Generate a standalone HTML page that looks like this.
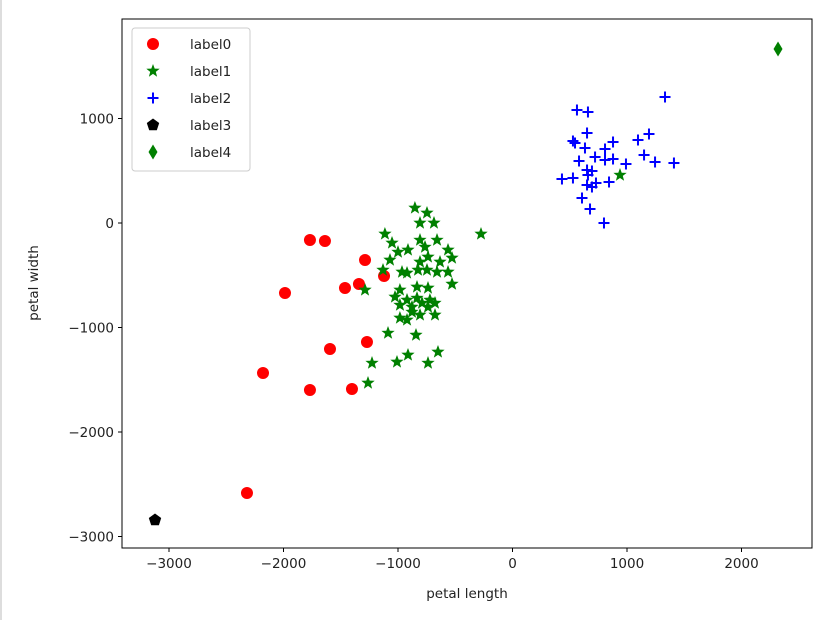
<!DOCTYPE html>
<html><head><meta charset="utf-8"><style>
html,body{margin:0;padding:0;background:#fff;width:816px;height:620px;overflow:hidden}
svg text{font-family:"DejaVu Sans","Liberation Sans",sans-serif;font-size:13.5px;fill:#222}
</style></head><body>
<svg id="chart" width="816" height="620" xmlns="http://www.w3.org/2000/svg"></svg>
<script>
const xTicks=[-3000,-2000,-1000,0,1000,2000];
const yTicks=[1000,0,-1000,-2000,-3000];
const label0X=[-1769,-1638,-1288,-1341,-1463,-1987,-1122,-1594,-1271,-2179,-1769,-1402,-2319];
const label0Y=[-163,-172,-354,-584,-622,-670,-507,-1206,-1139,-1435,-1598,-1589,-2584];
const label1X=[-852,-747,-808,-686,-1114,-1052,-275,-913,-1000,-808,-764,-659,-563,-528,-1070,-808,-738,-633,-1131,-965,-921,-825,-747,-659,-563,-528,-1288,-983,-834,-738,-1026,-921,-834,-721,-983,-878,-790,-677,-738,-878,-808,-677,-983,-921,-1087,-843,-651,-913,-1009,-1227,-738,-1262,939];
const label1Y=[144,96,0,0,-105,-191,-105,-258,-278,-163,-230,-163,-258,-335,-354,-373,-325,-373,-450,-469,-478,-450,-450,-469,-469,-584,-641,-641,-612,-622,-708,-737,-718,-737,-785,-804,-766,-766,-804,-852,-880,-880,-909,-928,-1053,-1072,-1234,-1263,-1330,-1340,-1340,-1531,459];
const label2X=[1332,563,659,651,528,546,633,878,808,1096,1192,721,808,878,581,991,1149,1245,1410,651,694,659,432,528,651,694,729,843,607,677,799];
const label2Y=[1206,1081,1062,861,785,766,718,775,708,794,852,632,603,612,593,565,651,584,574,507,498,459,421,431,364,344,383,392,239,134,0];
const label3X=[-3122];
const label3Y=[-2842];
const label4X=[2319];
const label4Y=[1665];
const legendLabels=["label0","label1","label2","label3","label4"];

const NS="http://www.w3.org/2000/svg";
const svg=document.getElementById('chart');
const L=122,R=812,T=19,B=548;
function sx(v){return 512.5+v*0.1145;}
function sy(v){return 223-v*0.1045;}
function el(tag,attrs,parent){const e=document.createElementNS(NS,tag);for(const k in attrs)e.setAttribute(k,attrs[k]);(parent||svg).appendChild(e);return e;}

const edge=el('rect',{x:0,y:0,width:2,height:620,fill:'#ddd'});


const frame=el('rect',{x:L,y:T,width:R-L,height:B-T,fill:'#fff',stroke:'#000','stroke-width':1});



xTicks.forEach(t=>{
  const x=sx(t);
  const ln=el('line',{x1:x,x2:x,y1:B,y2:B+4,stroke:'#000'});
  
  
  const tx=el('text',{x:x,y:B+20,'text-anchor':'middle'});
  tx.textContent=(t<0?'\u2212'+Math.abs(t):t);
  
  
});
yTicks.forEach(t=>{
  const y=sy(t);
  const ln=el('line',{x1:L-4,x2:L,y1:y,y2:y,stroke:'#000'});
  
  
  const tx=el('text',{x:L-8,y:y+5,'text-anchor':'end'});
  tx.textContent=(t<0?'\u2212'+Math.abs(t):t);
  
  
});
const xl=el('text',{x:467,y:598,'text-anchor':'middle'});xl.textContent='petal length';


const yl=el('text',{x:0,y:0,'text-anchor':'middle',transform:'translate(38,283) rotate(-90)'});yl.textContent='petal width';



function starPts(cx,cy,r){let p=[];for(let i=0;i<10;i++){const a=-Math.PI/2+i*Math.PI/5;const rr=i%2?r*0.42:r;p.push((cx+rr*Math.cos(a)).toFixed(1)+','+(cy+rr*Math.sin(a)).toFixed(1));}return p.join(' ');}
function pentPts(cx,cy,r){let p=[];for(let i=0;i<5;i++){const a=-Math.PI/2+i*2*Math.PI/5;p.push((cx+r*Math.cos(a)).toFixed(1)+','+(cy+r*Math.sin(a)).toFixed(1));}return p.join(' ');}
function marker(kind,cx,cy,g){
  if(kind===0)return el('circle',{cx:cx,cy:cy,r:6,fill:'#ff0000'},g);
  if(kind===1)return el('polygon',{points:starPts(cx,cy,7),fill:'#008000'},g);
  if(kind===2)return el('path',{d:`M${cx-5.5},${cy}H${cx+5.5}M${cx},${cy-5.5}V${cy+5.5}`,stroke:'#0000ff','stroke-width':2,fill:'none'},g);
  if(kind===3)return el('polygon',{points:pentPts(cx,cy,6.5),fill:'#000'},g);
  return el('polygon',{points:`${cx},${cy-7.5} ${cx+4.5},${cy} ${cx},${cy+7.5} ${cx-4.5},${cy}`,fill:'#008000'},g);
}
const series=[[label0X,label0Y],[label1X,label1Y],[label2X,label2Y],[label3X,label3Y],[label4X,label4Y]];
series.forEach((s,k)=>{
  const g=el('g',{});
  
  
  s[0].forEach((xv,i)=>{
    const m=marker(k,sx(xv),sy(s[1][i]),g);
    
    
  });
});

const lg=el('g',{});


el('rect',{x:132,y:28,width:118,height:143,rx:3,fill:'#fff','fill-opacity':0.85,stroke:'#ccc'},lg);
legendLabels.forEach((lab,i)=>{
  const y=44+i*27;
  const g=el('g',{},lg);
  
  
  marker(i,153,y,g);
  const t=el('text',{x:190,y:y+5},g);t.textContent=lab;
});
</script>
</body></html>
